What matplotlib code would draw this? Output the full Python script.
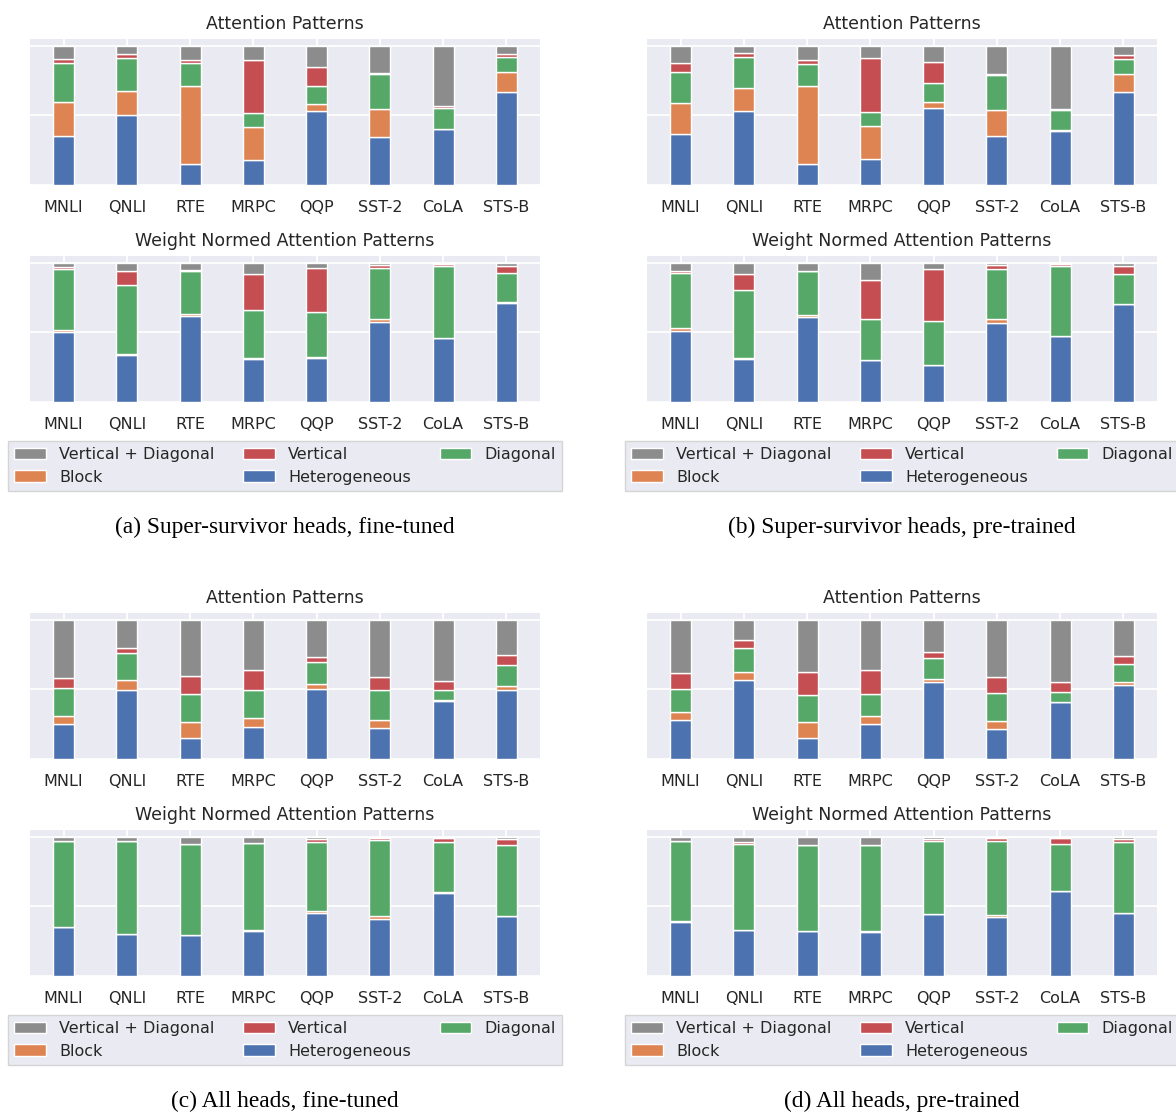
import numpy as np
import matplotlib
matplotlib.use("Agg")
import matplotlib.pyplot as plt
from matplotlib.patches import Patch

tasks = ["MNLI", "QNLI", "RTE", "MRPC", "QQP", "SST-2", "CoLA", "STS-B"]
patterns = ["Heterogeneous", "Block", "Diagonal", "Vertical", "Vertical + Diagonal"]
colors = ["#4C72B0", "#DD8452", "#55A868", "#C44E52", "#8C8C8C"]

# (a) super-survivor heads, fine-tuned
a_att = dict(
    het=[.350, .507, .150, .179, .529, .345, .400, .671],
    block=[.250, .167, .564, .238, .050, .198, .005, .139],
    diag=[.276, .238, .160, .104, .135, .255, .147, .111],
    vert=[.029, .028, .026, .377, .138, .005, .018, .019],
    vd=[.095, .060, .100, .102, .148, .197, .430, .060])
a_wn = dict(
    het=[.500, .337, .617, .311, .316, .574, .459, .713],
    block=[.020, .010, .015, .005, .005, .026, .003, .003],
    diag=[.439, .498, .311, .344, .327, .367, .514, .215],
    vert=[.010, .098, .005, .263, .319, .019, .019, .050],
    vd=[.031, .057, .052, .077, .033, .014, .005, .019])

# (b) super-survivor heads, pre-trained
b_att = dict(
    het=[.364, .529, .150, .190, .555, .350, .388, .667],
    block=[.224, .166, .564, .231, .045, .186, .005, .131],
    diag=[.226, .222, .157, .103, .131, .257, .143, .109],
    vert=[.062, .033, .029, .386, .150, .007, .012, .029],
    vd=[.124, .050, .100, .090, .119, .200, .452, .064])
b_wn = dict(
    het=[.510, .309, .612, .299, .266, .569, .474, .703],
    block=[.019, .005, .017, .003, .003, .027, .002, .003],
    diag=[.399, .490, .311, .294, .312, .363, .500, .217],
    vert=[.015, .119, .003, .284, .378, .024, .019, .055],
    vd=[.057, .077, .057, .120, .041, .017, .005, .022])

# (c) all heads, fine-tuned
c_att = dict(
    het=[.249, .493, .151, .227, .507, .220, .416, .493],
    block=[.057, .072, .112, .065, .029, .058, .005, .033],
    diag=[.206, .198, .208, .201, .165, .220, .077, .153],
    vert=[.074, .036, .129, .148, .029, .091, .064, .072],
    vd=[.414, .201, .400, .359, .270, .411, .438, .249])
c_wn = dict(
    het=[.349, .299, .292, .325, .452, .409, .600, .431],
    block=[.005, .003, .003, .003, .017, .022, .002, .003],
    diag=[.615, .667, .657, .631, .498, .547, .362, .511],
    vert=[.002, .000, .000, .000, .021, .015, .031, .043],
    vd=[.029, .031, .048, .041, .012, .007, .005, .012])

# (d) all heads, pre-trained
d_att = dict(
    het=[.278, .565, .153, .249, .555, .218, .407, .529],
    block=[.057, .059, .115, .060, .022, .055, .004, .026],
    diag=[.172, .177, .194, .162, .148, .203, .070, .129],
    vert=[.108, .053, .167, .168, .041, .117, .074, .055],
    vd=[.385, .146, .371, .361, .234, .407, .445, .261])
d_wn = dict(
    het=[.385, .330, .321, .318, .443, .421, .608, .450],
    block=[.010, .003, .003, .003, .003, .017, .002, .003],
    diag=[.574, .619, .616, .624, .523, .536, .342, .514],
    vert=[.000, .010, .000, .000, .019, .019, .043, .021],
    vd=[.031, .038, .060, .055, .012, .007, .005, .012])

captions = ["(a) Super-survivor heads, fine-tuned",
            "(b) Super-survivor heads, pre-trained",
            "(c) All heads, fine-tuned",
            "(d) All heads, pre-trained"]

W, H = 1176, 1113
fig = plt.figure(figsize=(W / 100, H / 100), dpi=100)
plt.rcParams['font.family'] = 'DejaVu Sans'


def px_axes(x0, y0, x1, y1):
    return fig.add_axes([x0 / W, 1 - y1 / H, (x1 - x0) / W, (y1 - y0) / H])


def stacked(ax, data, title):
    ax.set_facecolor("#EAEAF2")
    for s in ax.spines.values():
        s.set_visible(False)
    ax.set_axisbelow(True)
    ax.grid(True, color="white", linewidth=1.3)
    x = np.arange(len(tasks))
    bottom = np.zeros(len(tasks))
    for key, col in zip(["het", "block", "diag", "vert", "vd"], colors):
        vals = np.array(data[key])
        ax.bar(x, vals, 0.33, bottom=bottom, color=col, edgecolor="white", linewidth=1)
        bottom += vals
    ax.set_xticks(x)
    ax.set_xticklabels(tasks, fontsize=11.5, color="#262626")
    ax.set_yticks([0, 0.5, 1.0])
    ax.set_yticklabels([])
    ax.tick_params(length=0, pad=10.5)
    ax.set_title(title, fontsize=12.5, color="#262626", pad=7.5)


panels = [(30, 540, 0, a_att, a_wn, captions[0]),
          (647, 1157, 0, b_att, b_wn, captions[1]),
          (30, 540, 574, c_att, c_wn, captions[2]),
          (647, 1157, 574, d_att, d_wn, captions[3])]

handles = [Patch(facecolor=c, edgecolor="white") for c in colors]
leg_order = [4, 1, 3, 0, 2]

for x0, x1, dy, att, wn, cap in panels:
    ax1 = px_axes(x0, 39 + dy, x1, 185 + dy)
    stacked(ax1, att, "Attention Patterns")
    ax2 = px_axes(x0, 256 + dy, x1, 402 + dy)
    stacked(ax2, wn, "Weight Normed Attention Patterns")
    lx0, lx1 = x0 - 22, x1 + 22
    ly0, ly1 = 440 + dy, 492 + dy
    leg = fig.legend([handles[i] for i in leg_order], [patterns[i] for i in leg_order],
                     ncol=3, mode="expand", loc="center",
                     bbox_to_anchor=(lx0 / W, 1 - ly1 / H, (lx1 - lx0) / W, (ly1 - ly0) / H),
                     fontsize=11.5, frameon=True, fancybox=False, borderaxespad=0,
                     handlelength=2.0, labelspacing=0.45)
    leg.get_frame().set_facecolor("#EAEAF2")
    leg.get_frame().set_edgecolor("#D5D5D5")
    leg.get_frame().set_alpha(1)
    for t in leg.get_texts():
        t.set_color("#262626")
    fig.text((x0 + x1) / 2 / W, 1 - (527 + dy) / H, cap, ha="center", va="center",
             fontsize=16.8, family="Liberation Serif")

fig.savefig("out.png", dpi=100)
